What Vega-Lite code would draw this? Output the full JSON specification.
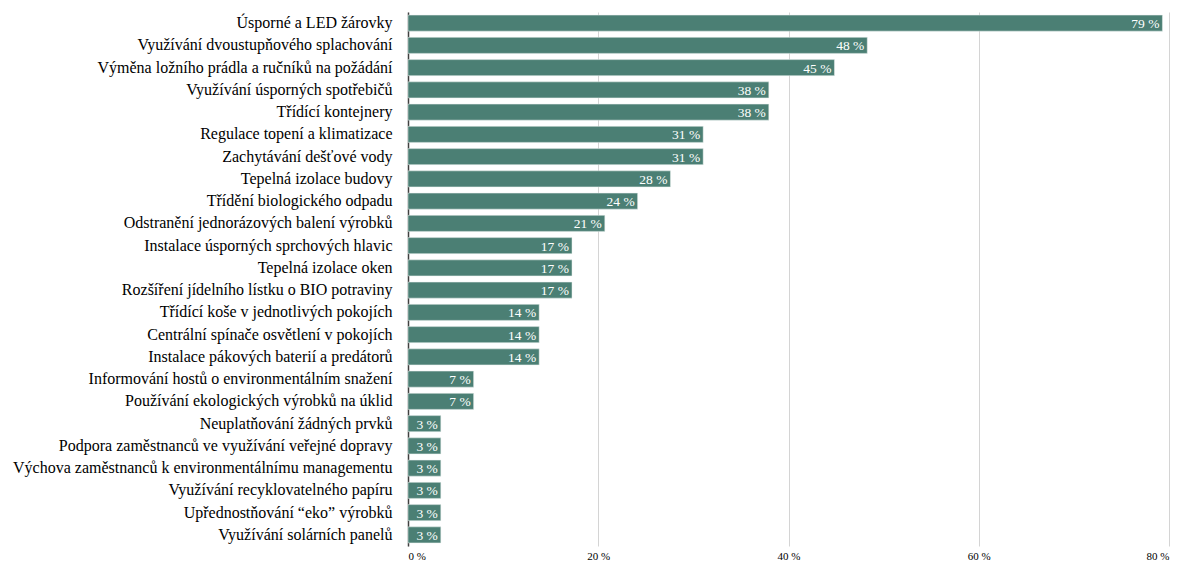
{
  "$schema": "https://vega.github.io/schema/vega-lite/v6.json",
  "autosize": "none",
  "width": 761,
  "height": 534,
  "padding": {"left": 408, "top": 12, "right": 13, "bottom": 15},
  "background": "white",
  "config": {"view": {"stroke": null}, "font": "Liberation Serif"},
  "data": {"values": [
    {"cat": "Úsporné a LED žárovky", "v": 79.31, "lab": "79 %"},
    {"cat": "Využívání dvoustupňového splachování", "v": 48.28, "lab": "48 %"},
    {"cat": "Výměna ložního prádla a ručníků na požádání", "v": 44.83, "lab": "45 %"},
    {"cat": "Využívání úsporných spotřebičů", "v": 37.93, "lab": "38 %"},
    {"cat": "Třídící kontejnery", "v": 37.93, "lab": "38 %"},
    {"cat": "Regulace topení a klimatizace", "v": 31.03, "lab": "31 %"},
    {"cat": "Zachytávání dešťové vody", "v": 31.03, "lab": "31 %"},
    {"cat": "Tepelná izolace budovy", "v": 27.59, "lab": "28 %"},
    {"cat": "Třídění biologického odpadu", "v": 24.14, "lab": "24 %"},
    {"cat": "Odstranění jednorázových balení výrobků", "v": 20.69, "lab": "21 %"},
    {"cat": "Instalace úsporných sprchových hlavic", "v": 17.24, "lab": "17 %"},
    {"cat": "Tepelná izolace oken", "v": 17.24, "lab": "17 %"},
    {"cat": "Rozšíření jídelního lístku o BIO potraviny", "v": 17.24, "lab": "17 %"},
    {"cat": "Třídící koše v jednotlivých pokojích", "v": 13.79, "lab": "14 %"},
    {"cat": "Centrální spínače osvětlení v pokojích", "v": 13.79, "lab": "14 %"},
    {"cat": "Instalace pákových baterií a predátorů", "v": 13.79, "lab": "14 %"},
    {"cat": "Informování hostů o environmentálním snažení ", "v": 6.9, "lab": "7 %"},
    {"cat": "Používání ekologických výrobků na úklid", "v": 6.9, "lab": "7 %"},
    {"cat": "Neuplatňování žádných prvků", "v": 3.45, "lab": "3 %"},
    {"cat": "Podpora zaměstnanců ve využívání veřejné dopravy", "v": 3.45, "lab": "3 %"},
    {"cat": "Výchova zaměstnanců k environmentálnímu managementu", "v": 3.45, "lab": "3 %"},
    {"cat": "Využívání recyklovatelného papíru", "v": 3.45, "lab": "3 %"},
    {"cat": "Upřednostňování “eko” výrobků", "v": 3.45, "lab": "3 %"},
    {"cat": "Využívání solárních panelů", "v": 3.45, "lab": "3 %"}
  ]},
  "encoding": {
    "y": {"field": "cat", "type": "nominal", "sort": null,
      "scale": {"paddingInner": 0.28, "paddingOuter": 0.14},
      "axis": {"title": null, "ticks": false, "labelFontSize": 16, "labelColor": "#000000", "labelPadding": 16, "labelLimit": 420, "domainColor": "#404040", "domainWidth": 1.5, "labelFont": "Liberation Serif"}},
    "x": {"field": "v", "type": "quantitative",
      "scale": {"domain": [0, 80], "nice": false},
      "axis": {"title": null, "values": [0, 20, 40, 60, 80], "labelExpr": "datum.value + ' %'", "ticks": false, "domain": false, "labelFontSize": 11, "labelColor": "#000000", "labelPadding": 4, "gridColor": "#d4d4d4", "gridWidth": 1, "labelFont": "Liberation Serif"}}
  },
  "layer": [
    {"mark": {"type": "bar", "color": "#4b7f74", "stroke": "#e8efed", "strokeWidth": 0.5}},
    {"mark": {"type": "text", "align": "right", "baseline": "middle", "dx": -3, "dy": 1, "color": "#ffffff", "fontSize": 13.5, "font": "Liberation Serif"},
      "encoding": {"text": {"field": "lab"}}}
  ]
}
